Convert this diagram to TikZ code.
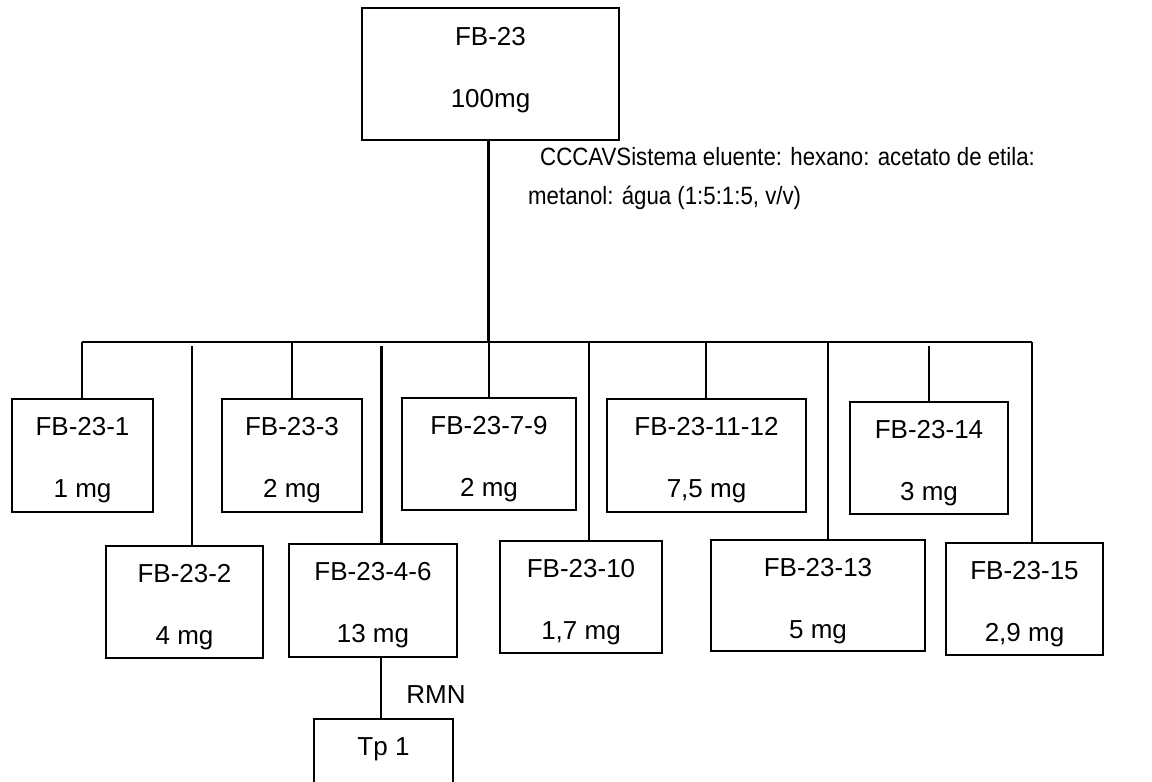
\documentclass[tikz,border=0pt]{standalone}
\usepackage{fontspec}
\setmainfont{Liberation Sans}
\usepackage{graphicx}
\newcommand\mkbox[7]{%
  \node[box, minimum width=#4pt, minimum height=#5pt] (#1) at (#2,#3) {};
  \node[txt] (#1a) at ([yshift=-36pt]#1.north) {#6};
  \node[txt] (#1b) at ([yshift=-98pt]#1.north) {#7};}
\begin{document}
\begin{tikzpicture}[x=1pt,y=-1pt,
  box/.style={draw=black, line width=1.8pt, inner sep=0pt, outer sep=0pt, rectangle},
  txt/.style={inner sep=0pt, anchor=base, font=\fontsize{26}{31}\selectfont},
  lbl/.style={inner sep=0pt, anchor=base west, font=\fontsize{25}{30}\selectfont},
  thinline/.style={line width=2pt},
  midline/.style={line width=2.4pt},
  thickline/.style={line width=3pt}]
\useasboundingbox (0,0) rectangle (1152,782);
\clip (0,0) rectangle (1152,782);
% top box
\node[box, minimum width=257pt, minimum height=132pt] (b0) at (490.5,74) {};
\node[txt] (b0a) at ([yshift=-37pt]b0.north) {FB-23};
\node[txt] (b0b) at ([yshift=-99pt]b0.north) {100mg};
% label
\node[lbl] (l1) at (540,165) {\scalebox{0.89}[1]{CCCAVSistema eluente: hexano: acetato de etila:}};
\node[lbl] (l2) at (528,204) {\scalebox{0.89}[1]{metanol: água (1:5:1:5, v/v)}};
% row 1
\mkbox{b1}{82.5}{455.5}{141}{113}{FB-23-1}{1 mg}
\mkbox{b3}{292}{455.5}{140}{113}{FB-23-3}{2 mg}
\mkbox{b79}{489}{454}{174}{112}{FB-23-7-9}{2 mg}
\mkbox{b1112}{706.5}{455.5}{199}{113}{FB-23-11-12}{7,5 mg}
\mkbox{b14}{929}{458}{158}{112}{FB-23-14}{3 mg}
% row 2
\mkbox{b2}{184.5}{602}{157}{112}{FB-23-2}{4 mg}
\mkbox{b46}{373}{600.5}{168}{113}{FB-23-4-6}{13 mg}
\mkbox{b10}{581}{597}{162}{112}{FB-23-10}{1,7 mg}
\mkbox{b13}{818}{595.5}{214}{111}{FB-23-13}{5 mg}
\mkbox{b15}{1024.5}{599}{157}{112}{FB-23-15}{2,9 mg}
% Tp 1
\node[box, minimum width=139pt, minimum height=82pt] (tp) at (383.5,760) {};
\node[txt] (tpa) at ([yshift=-36pt]tp.north) {Tp 1};
\node[txt] (rmn) at (436,703) {RMN};
% bus coordinates
\coordinate (j1) at (82,342);
\coordinate (j2) at (192,346);
\coordinate (j3) at (292,342);
\coordinate (j46) at (381,346);
\coordinate (m0) at (488.5,342);
\coordinate (j10) at (589,342);
\coordinate (j1112) at (706,342);
\coordinate (j13) at (828,342);
\coordinate (j14) at (929,346);
\coordinate (j15) at (1032,342);
% connectors
\draw[thickline] (b0.south -| m0) -- (m0);
\draw[midline] (j1) -- (j15);
\draw[thinline] (j1) -- (b1.north -| j1);
\draw[midline] (j2) -- (b2.north -| j2);
\draw[thinline] (j3) -- (b3.north -| j3);
\draw[thickline] (j46) -- (b46.north -| j46);
\draw[thinline] (m0) -- (b79.north -| m0);
\draw[thinline] (j10) -- (b10.north -| j10);
\draw[midline] (j1112) -- (b1112.north -| j1112);
\draw[thinline] (j13) -- (b13.north -| j13);
\draw[thinline] (j14) -- (b14.north -| j14);
\draw[thinline] (j15) -- (b15.north -| j15);
\draw[thinline] (b46.south -| j46) -- (tp.north -| j46);
\end{tikzpicture}
\end{document}
